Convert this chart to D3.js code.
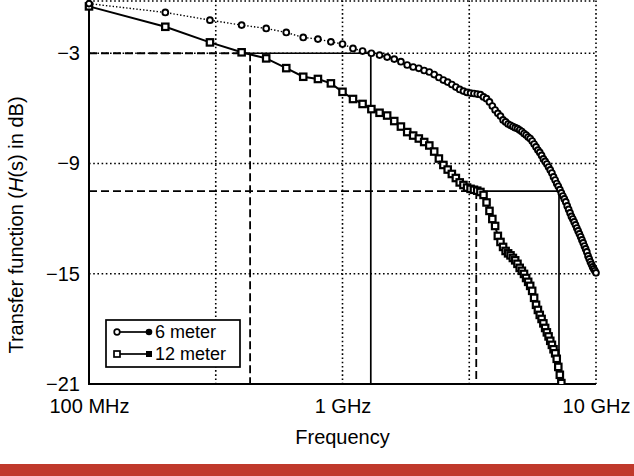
<!DOCTYPE html>
<html>
<head>
<meta charset="utf-8">
<script src="https://cdn.jsdelivr.net/npm/d3@7"></script>
<style>
  html, body { margin: 0; padding: 0; background: #fff; }
  svg { display: block; }
  text { font-family: "Liberation Sans", Arial, Helvetica, sans-serif; fill: #000; }
</style>
</head>
<body>
<svg id="chart" width="634" height="476"></svg>
<script>
// ---------- DATA ----------
const freqMHz = [100,200,300,400,500,600,700,800,900,1000,
  1100,1200,1300,1400,1500,1600,1700,1800,1900,2000,
  2100,2200,2300,2400,2500,2600,2700,2800,2900,3000,
  3100,3200,3300,3400,3500,3600,3700,3800,3900,4000,
  4100,4200,4300,4400,4500,4600,4700,4800,4900,5000,
  5100,5200,5300,5400,5500,5600,5700,5800,5900,6000,
  6100,6200,6300,6400,6500,6600,6700,6800,6900,7000,
  7100,7200,7300,7400,7500,7600,7700,7800,7900,8000,
  8100,8200,8300,8400,8500,8600,8700,8800,8900,9000,
  9100,9200,9300,9400,9500,9600,9700,9800,9900,10000];

const db6meter = [-0.30,-0.78,-1.20,-1.47,-1.65,-1.87,-2.14,-2.23,-2.38,-2.50,
  -2.74,-2.88,-3.00,-3.10,-3.21,-3.32,-3.46,-3.64,-3.75,-3.82,
  -3.94,-4.02,-4.16,-4.32,-4.46,-4.57,-4.70,-4.84,-4.97,-5.06,
  -5.13,-5.17,-5.19,-5.22,-5.25,-5.38,-5.47,-5.65,-5.87,-6.09,
  -6.27,-6.42,-6.63,-6.74,-6.85,-6.92,-6.99,-7.05,-7.10,-7.18,
  -7.26,-7.37,-7.45,-7.56,-7.64,-7.78,-7.94,-8.10,-8.27,-8.40,
  -8.56,-8.75,-8.89,-9.03,-9.19,-9.35,-9.52,-9.73,-9.90,-10.09,
  -10.24,-10.42,-10.60,-10.77,-10.93,-11.09,-11.31,-11.50,-11.69,-11.88,
  -12.02,-12.18,-12.34,-12.51,-12.67,-12.83,-12.99,-13.16,-13.32,-13.49,
  -13.65,-13.81,-14.03,-14.19,-14.35,-14.49,-14.63,-14.74,-14.84,-14.95];

const db12meter = [-0.45,-1.56,-2.41,-2.95,-3.28,-3.81,-4.28,-4.40,-4.64,-5.10,
  -5.49,-5.76,-6.04,-6.24,-6.39,-6.69,-6.99,-7.29,-7.48,-7.64,
  -7.83,-8.02,-8.35,-8.73,-9.08,-9.33,-9.57,-9.79,-10.03,-10.17,
  -10.31,-10.38,-10.43,-10.48,-10.55,-10.71,-11.12,-11.58,-12.02,-12.40,
  -12.94,-13.27,-13.54,-13.76,-13.89,-14.00,-14.14,-14.27,-14.46,-14.68,
  -14.84,-15.01,-15.23,-15.44,-15.66,-15.93,-16.31,-16.69,-16.97,-17.24,
  -17.46,-17.70,-17.95,-18.19,-18.41,-18.65,-18.87,-19.11,-19.33,-19.63,
  -20.07,-20.50,-20.95];

const seriesNames = ["6 meter", "12 meter"];
const yTicks = [-3, -9, -15, -21];
const xTicks = [100, 1000, 10000];
const xTickLabels = ["100 MHz", "1 GHz", "10 GHz"];
const xGrid = [316.23, 1000, 3162.3, 10000];
const yGrid = [-3, -9, -15];
const cutLevels = [-3, -10.5];          // dB levels marked
const cut12meter = [432, 3370];         // MHz where 12 m reaches each level
const cut6meter = [1293, 7145];         // MHz where 6 m reaches each level

// ---------- LAYOUT ----------
const svg = d3.select("#chart");
const L = 89, R = 596, T = 0.5, B = 384;
const x = d3.scaleLog().domain([100, 10000]).range([L, R]);
const y = d3.scaleLinear().domain([-21, -0.13]).range([B, T]);

svg.append("defs").append("clipPath").attr("id", "clip")
  .append("rect").attr("x", L - 6).attr("y", -6).attr("width", R - L + 12).attr("height", B + 6);

// grid
const grid = svg.append("g").attr("stroke", "#000").attr("stroke-width", 1.6)
  .attr("stroke-dasharray", "1.6,2.6").attr("fill", "none");
grid.selectAll(".gx").data(xGrid).join("line")
  .attr("x1", d => x(d)).attr("x2", d => x(d)).attr("y1", T).attr("y2", B);
grid.selectAll(".gy").data(yGrid).join("line")
  .attr("x1", L).attr("x2", R).attr("y1", d => y(d)).attr("y2", d => y(d));
grid.append("line").attr("x1", L).attr("x2", R).attr("y1", T + 0.5).attr("y2", T + 0.5);

// reference (cut-off) lines
const ref = svg.append("g").attr("stroke", "#000").attr("fill", "none");
cutLevels.forEach((lv, i) => {
  ref.append("line").attr("stroke-width", 1.8).attr("stroke-dasharray", "8,4")
    .attr("x1", L).attr("x2", x(cut12meter[i])).attr("y1", y(lv)).attr("y2", y(lv));
  ref.append("line").attr("stroke-width", 1.8).attr("stroke-dasharray", "8,4")
    .attr("x1", x(cut12meter[i])).attr("x2", x(cut12meter[i])).attr("y1", y(lv)).attr("y2", B);
  ref.append("line").attr("stroke-width", 1.7)
    .attr("x1", x(cut12meter[i])).attr("x2", x(cut6meter[i])).attr("y1", y(lv)).attr("y2", y(lv));
  ref.append("line").attr("stroke-width", 1.7)
    .attr("x1", x(cut6meter[i])).attr("x2", x(cut6meter[i])).attr("y1", y(lv)).attr("y2", B);
});

// axes frame (left + bottom solid)
svg.append("line").attr("x1", L).attr("x2", L).attr("y1", T).attr("y2", B)
  .attr("stroke", "#000").attr("stroke-width", 2);
svg.append("line").attr("x1", L - 1).attr("x2", R).attr("y1", B).attr("y2", B)
  .attr("stroke", "#000").attr("stroke-width", 2);

// axes labels via d3 axes
const yAxis = d3.axisLeft(y).tickValues(yTicks).tickSize(0).tickPadding(9)
  .tickFormat(d => String(d).replace("-", "\u2212"));
const gy = svg.append("g").attr("transform", `translate(${L},0)`).call(yAxis);
gy.select(".domain").remove();
gy.selectAll("text").style("font-size", "20px").style("font-family", '"Liberation Sans", Arial, sans-serif');

const xAxis = d3.axisBottom(x).tickValues(xTicks).tickSize(0).tickPadding(15)
  .tickFormat((d, i) => xTickLabels[i]);
const gx = svg.append("g").attr("transform", `translate(0,${B})`).call(xAxis);
gx.select(".domain").remove();
gx.selectAll("text").style("font-size", "20px").style("font-family", '"Liberation Sans", Arial, sans-serif');

// axis titles
svg.append("text").attr("x", (L + R) / 2).attr("y", 444).attr("text-anchor", "middle")
  .style("font-size", "20px").text("Frequency");
const yt = svg.append("text").attr("transform", `translate(23,${225}) rotate(-90)`)
  .attr("text-anchor", "middle").style("font-size", "20px");
yt.append("tspan").text("Transfer function (");
yt.append("tspan").style("font-style", "italic").text("H");
yt.append("tspan").text("(s) in dB)");

// series
const plot = svg.append("g").attr("clip-path", "url(#clip)");
const s6 = freqMHz.map((f, i) => [f, db6meter[i]]);
const s12 = db12meter.map((v, i) => [freqMHz[i], v]);
const line = d3.line().x(d => x(d[0])).y(d => y(d[1]));

plot.append("path").datum(s6).attr("d", line).attr("fill", "none")
  .attr("stroke", "#000").attr("stroke-width", 1.4).attr("stroke-dasharray", "1.4,2");
plot.append("path").datum(s12).attr("d", line).attr("fill", "none")
  .attr("stroke", "#000").attr("stroke-width", 2);

plot.selectAll(".m12").data(s12).join("rect")
  .attr("x", d => x(d[0]) - 3.2).attr("y", d => y(d[1]) - 3.2)
  .attr("width", 6.4).attr("height", 6.4)
  .attr("fill", "#fff").attr("stroke", "#000").attr("stroke-width", 2.2);
plot.selectAll(".m6").data(s6).join("circle")
  .attr("cx", d => x(d[0])).attr("cy", d => y(d[1])).attr("r", 2.9)
  .attr("fill", "#fff").attr("stroke", "#000").attr("stroke-width", 1.9);

// legend
const lg = svg.append("g");
lg.append("rect").attr("x", 106).attr("y", 320).attr("width", 134).attr("height", 47)
  .attr("fill", "#fff").attr("stroke", "#000").attr("stroke-width", 1.7);
const rows = [332, 354];
rows.forEach((ry, i) => {
  lg.append("line").attr("x1", 117).attr("x2", 149).attr("y1", ry).attr("y2", ry)
    .attr("stroke", "#000").attr("stroke-width", 1.7);
  if (i === 0) {
    lg.append("circle").attr("cx", 117).attr("cy", ry).attr("r", 2.8)
      .attr("fill", "#fff").attr("stroke", "#000").attr("stroke-width", 1.7);
    lg.append("circle").attr("cx", 149).attr("cy", ry).attr("r", 3.3).attr("fill", "#000");
  } else {
    lg.append("rect").attr("x", 114).attr("y", ry - 3).attr("width", 6).attr("height", 6)
      .attr("fill", "#fff").attr("stroke", "#000").attr("stroke-width", 1.7);
    lg.append("rect").attr("x", 146).attr("y", ry - 3).attr("width", 6).attr("height", 6)
      .attr("fill", "#000");
  }
  lg.append("text").attr("x", 155).attr("y", ry + 6).style("font-size", "18px").text(seriesNames[i]);
});

// bottom red band
svg.append("rect").attr("x", 0).attr("y", 464).attr("width", 634).attr("height", 12).attr("fill", "#c0392b");
</script>
</body>
</html>
